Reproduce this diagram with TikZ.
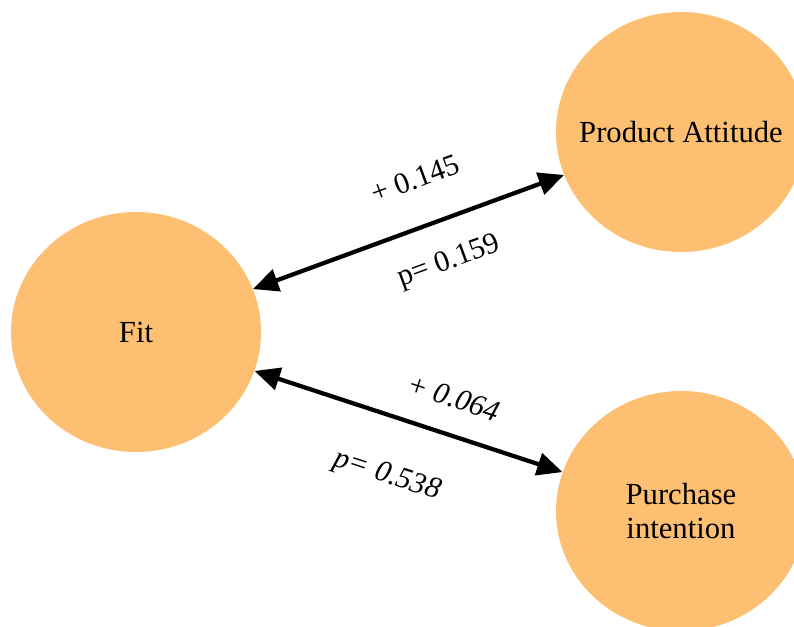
\documentclass[tikz,border=0pt]{standalone}
\usepackage{fontspec}
\setmainfont{Liberation Serif}
\usepackage{tikz}
\usetikzlibrary{shapes,arrows.meta}
\definecolor{bubble}{RGB}{253,191,113}
\tikzstyle{factor} = [ellipse, fill=bubble, minimum width=187.5pt,
    minimum height=180pt, inner xsep=-20pt, align=center,
    font=\fontsize{23}{25}\selectfont]
\tikzstyle{line} = [draw, {Triangle[length=19pt,width=17pt]}-{Triangle[length=19pt,width=17pt]},
    line width=3.2pt]
\tikzstyle{coef} = [sloped, font=\fontsize{22.5}{25}\selectfont]

\begin{document}
\begin{tikzpicture}[x=0.75pt, y=-0.75pt]
    \clip (0,0) rectangle (794,626);
    % Place nodes
    \node [factor] (fit) at (136,332) {Fit};
    \node [factor] (attitude) at (681,132) {Product Attitude};
    \node [factor] (intention) at (681,511) {Purchase\\intention};
    % Draw edges
    \path [line] (fit) -- (attitude)
        node [coef, pos=0.575, above=23pt] {+ 0.145}
        node [coef, pos=0.585, below=17pt] {p= 0.159};
    \path [line] (fit) -- (intention)
        node [coef, pos=0.61, above=15pt, font=\fontsize{22.5}{25}\selectfont\itshape] {+ 0.064}
        node [coef, pos=0.49, below=29pt, font=\fontsize{22.5}{25}\selectfont\itshape] {p= 0.538};
\end{tikzpicture}
\end{document}
